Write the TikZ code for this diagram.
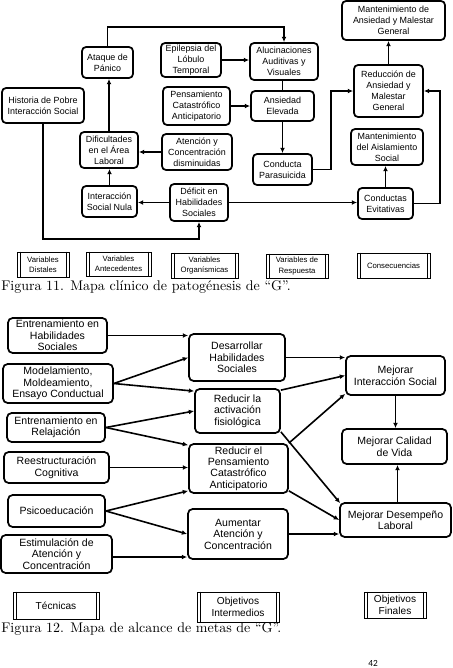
\documentclass[tikz,border=0pt]{standalone}
\usepackage{fontspec}
\setsansfont{Liberation Sans}
\newfontfamily\calibfont{Carlito}
\usetikzlibrary{arrows.meta,calc}

\newcommand\bx[7]{%
 \pgfmathsetmacro\bxw{(#5-#3)*0.75}%
 \pgfmathsetmacro\bxh{(#6-#4)*0.75}%
 \node[#1, minimum width=\bxw pt, minimum height=\bxh pt] (#2) at ({(#3+#5)/2},{(#4+#6)/2}) {#7};}
\newcommand\lgb[7]{%
 \pgfmathsetmacro\bxw{(#5-#3)*0.75}%
 \pgfmathsetmacro\bxh{(#6-#4)*0.75}%
 \node[#1, minimum width=\bxw pt, minimum height=\bxh pt] (#2) at ({(#3+#5)/2},{(#4+#6)/2}) {#7};
 \draw[line width=0.7pt] ([xshift=2.6pt]#2.north west) -- ([xshift=2.6pt]#2.south west);
 \draw[line width=0.7pt] ([xshift=-2.6pt]#2.north east) -- ([xshift=-2.6pt]#2.south east);}

\tikzset{
 boxa/.style={draw, line width=1.3pt, rounded corners=3pt, align=center, inner sep=0pt,
   font=\sffamily\fontsize{6.7}{8.2}\selectfont},
 boxb/.style={draw, line width=1.3pt, rounded corners=3.5pt, align=center, inner sep=0pt,
   font=\sffamily\fontsize{7.9}{8.6}\selectfont},
 lega/.style={draw, line width=0.7pt, align=center, inner sep=0pt,
   font=\sffamily\fontsize{5.8}{7.6}\selectfont},
 legb/.style={draw, line width=0.7pt, align=center, inner sep=0pt,
   font=\sffamily\fontsize{7.6}{8.7}\selectfont},
 arr/.style={line width=1.2pt, -{Latex[length=4pt,width=3.6pt]}},
 ln/.style={line width=1.2pt},
 capt/.style={inner sep=0pt, font=\rmfamily\fontsize{10.5}{12}\selectfont},
}

\begin{document}
\begin{tikzpicture}[x=0.75pt,y=-0.75pt]
\useasboundingbox (0,0) rectangle (453,668);

% ---------- Figura 11 ----------
\bx{boxa}{ataq}{82}{47}{133}{78}{Ataque de\\Pánico}
\bx{boxa}{epi}{161}{43}{221}{77}{Epilepsia del\\Lóbulo\\Temporal}
\bx{boxa}{hist}{2}{88}{84}{123}{Historia de Pobre\\Interacción Social}
\bx{boxa}{pens}{163}{87}{230}{125}{Pensamiento\\Catastrófico\\Anticipatorio}
\bx{boxa}{aluc}{250}{43}{318}{80}{Alucinaciones\\Auditivas y\\Visuales}
\bx{boxa}{ansi}{251}{91}{314}{121}{Ansiedad\\Elevada}
\bx{boxa}{mman}{342}{1}{445}{40}{Mantenimiento de\\Ansiedad y Malestar\\General}
\bx{boxa}{redu}{354}{65}{423}{117}{Reducción de\\Ansiedad y\\Malestar\\General}
\bx{boxa}{difi}{80}{132}{138}{168}{Dificultades\\en el Área\\Laboral}
\bx{boxa}{aten}{162}{134}{232}{170}{Atención y\\Concentración\\disminuidas}
\bx{boxa}{cpar}{253}{154}{312}{185}{Conducta\\Parasuicida}
\bx{boxa}{mais}{351}{129}{423}{165}{Mantenimiento\\del Aislamiento\\Social}
\bx{boxa}{inul}{82}{186}{137}{217}{Interacción\\Social Nula}
\bx{boxa}{defi}{170}{184}{228}{221}{Déficit en\\Habilidades\\Sociales}
\bx{boxa}{cevi}{358}{188}{413}{219}{Conductas\\Evitativas}

\coordinate (ytop) at (0,27);
\coordinate (ybot) at (0,239);
\coordinate (xr1) at (331,0);
\coordinate (xr2) at (440,0);

\draw[arr] (ataq.north) -- (ataq.north |- ytop) -| (aluc.north);
\draw[arr] (epi.east) -- (epi.east -| aluc.west);
\draw[arr] (pens.east) -- (pens.east -| ansi.west);
\draw[ln] (ansi.north) -- (ansi.north |- aluc.south);
\draw[arr] (ansi.south) -- (ansi.south |- cpar.north);
\draw[arr] (cpar.east) -| (xr1 |- redu.west) -- (redu.west);
\draw[arr] (cevi.east) -| (xr2 |- redu.east) -- (redu.east);
\draw[arr] (redu.north) -- (redu.north |- mman.south);
\draw[arr] (cevi.north) -- (cevi.north |- mais.south);
\draw[arr] (defi.east) -- (defi.east -| cevi.west);
\draw[arr] (defi.west) -- (defi.west -| inul.east);
\draw[arr] (aten.west) -- (aten.west -| difi.east);
\draw[arr] (inul.north) -- (inul.north |- difi.south);
\draw[arr] (difi.north) -- (difi.north |- ataq.south);
\draw[arr] (hist.south) -- (hist.south |- ybot) -| (defi.south);

\lgb{lega}{l1}{17}{252}{69}{277}{Variables\\Distales}
\lgb{lega}{l2}{86}{252}{151}{276}{Variables\\Antecedentes}
\lgb{lega}{l3}{171}{253}{238}{278}{Variables\\Organísmicas}
\lgb{lega}{l4}{266}{254}{328}{278}{Variables de\\Respuesta}
\lgb{lega}{l5}{357}{253}{430}{278}{Consecuencias}

\node[capt, anchor=base west] (cap11) at (1,290) {Figura 11. Mapa clínico de patogénesis de “G”.};

% ---------- Figura 12 ----------
\bx{boxb}{enth}{8}{318}{107}{353}{Entrenamiento en\\Habilidades\\Sociales}
\bx{boxb}{mode}{3}{364}{113}{403}{Modelamiento,\\Moldeamiento,\\Ensayo Conductual}
\bx{boxb}{rela}{7}{413}{105}{442}{Entrenamiento en\\Relajación}
\bx{boxb}{rees}{4}{452}{109}{483}{Reestructuración\\Cognitiva}
\bx{boxb}{psic}{8}{495}{105}{527}{Psicoeducación}
\bx{boxb}{esti}{1}{535}{112}{573}{Estimulación de\\Atención y\\Concentración}
\bx{boxb}{desa}{189}{334}{285}{381}{Desarrollar\\Habilidades\\Sociales}
\bx{boxb}{acti}{195}{389}{280}{433}{Reducir la\\activación\\fisiológica}
\bx{boxb}{rpen}{189}{444}{288}{493}{Reducir el\\Pensamiento\\Catastrófico\\Anticipatorio}
\bx{boxb}{aume}{188}{509}{288}{559}{Aumentar\\Atención y\\Concentración}
\bx{boxb}{mint}{346}{356}{445}{395}{Mejorar\\Interacción Social}
\bx{boxb}{mcal}{342}{429}{447}{464}{Mejorar Calidad\\de Vida}
\bx{boxb}{mdes}{340}{503}{451}{537}{Mejorar Desempeño\\Laboral}

\coordinate (e1) at ($(esti.east)+(0,3)$);
\coordinate (m1) at ($(mdes.north)+(2,0)$);

\draw[arr] (enth.east) -- (enth.east -| desa.west);
\draw[arr] (mode.east) -- (desa.west);
\draw[arr] (mode.east) -- ($(acti.north west)+(0,3)$);
\draw[arr] (rela.east) -- (acti.west);
\draw[arr] (rela.east) -- ($(rpen.north west)+(0,2)$);
\draw[arr] (rees.east) -- (rees.east -| rpen.west);
\draw[arr] (psic.east) -- ($(rpen.south west)+(0,-3)$);
\draw[arr] (psic.east) -- (aume.west);
\draw[arr] (e1) -- (e1 -| aume.west);
\draw[arr] (desa.east) -- (desa.east -| mint.west);
\draw[arr] ($(acti.north east)+(0,2)$) -- (mint.west);
\draw[arr] (rpen.north east) -- ($(mint.south west)+(0,-2)$);
\draw[arr] ($(acti.south east)+(0,-2)$) -- ($(mdes.north west)+(1,1)$);
\draw[arr] ($(rpen.south east)+(0,-3)$) -- (mdes.west);
\draw[arr] (aume.east) -- (aume.east -| mdes.west);
\draw[arr] (mint.south) -- (mint.south |- mcal.north);
\draw[arr] (m1) -- (m1 |- mcal.south);

\lgb{legb}{t1}{13}{592}{99}{619}{Técnicas}
\lgb{legb}{t2}{197}{592}{279}{622}{Objetivos\\Intermedios}
\lgb{legb}{t3}{364}{592}{426}{618}{Objetivos\\Finales}

\node[capt, anchor=base west] (cap12) at (1,632) {Figura 12. Mapa de alcance de metas de “G”.};
\node[inner sep=0pt, font=\calibfont\fontsize{7}{8}\selectfont] (pg) at (373,663) {42};
\end{tikzpicture}
\end{document}
